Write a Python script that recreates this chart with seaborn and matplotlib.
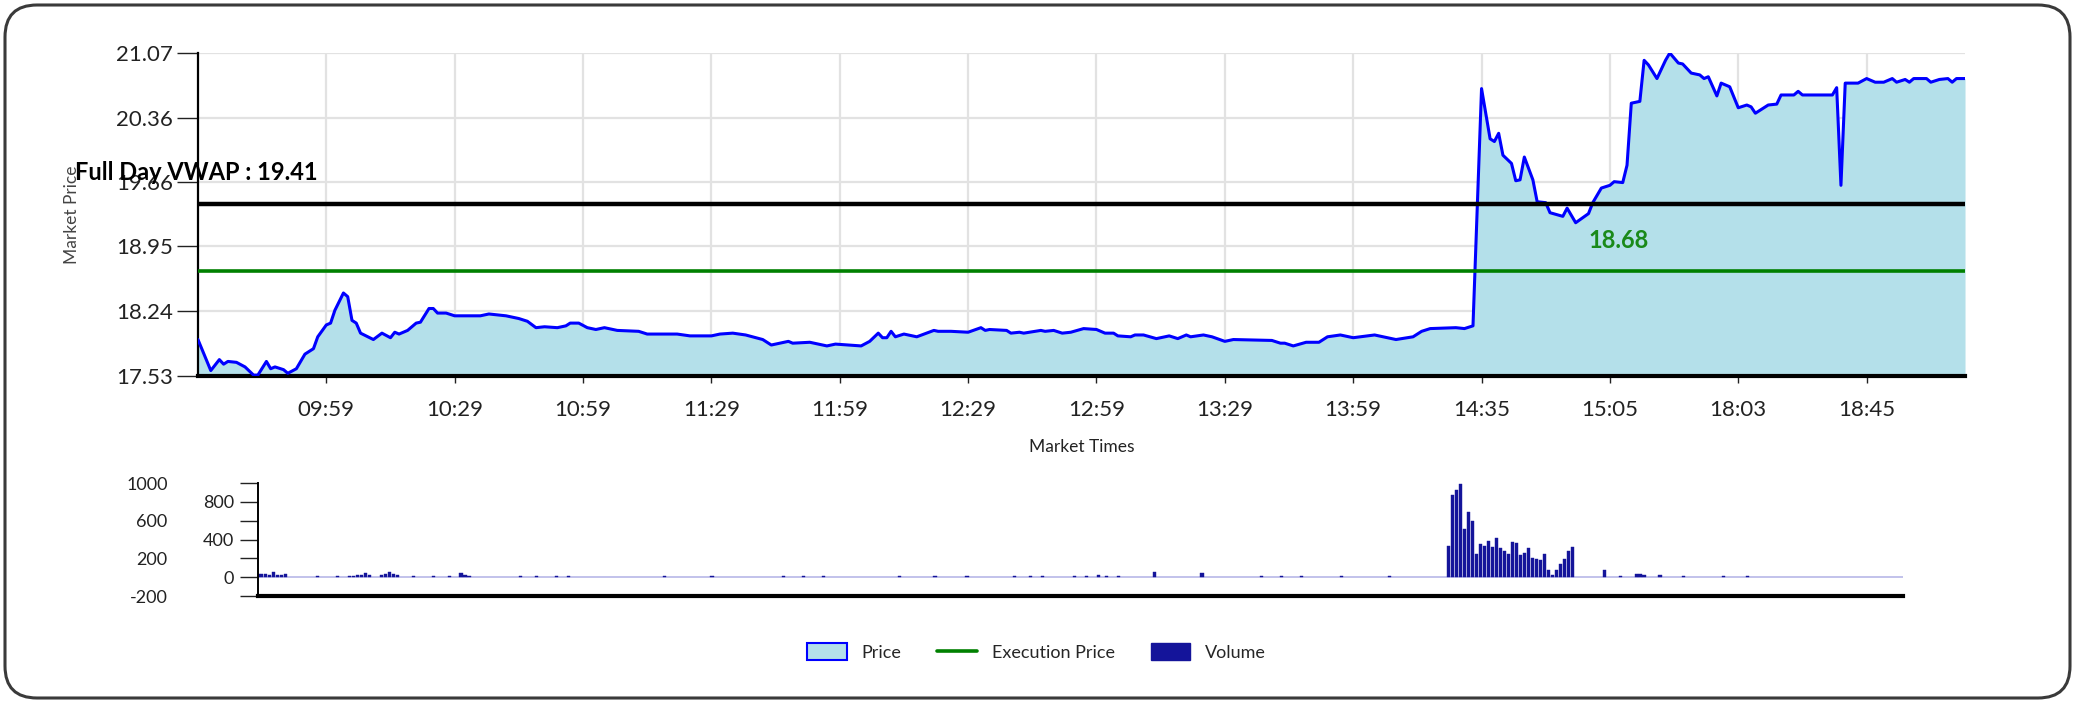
import numpy as np
import pandas as pd
import matplotlib
matplotlib.use("Agg")
import matplotlib.pyplot as plt
import seaborn as sns
from matplotlib.patches import Patch, FancyBboxPatch
from matplotlib.lines import Line2D
from matplotlib.transforms import IdentityTransform

# ---- data ----
# x is the trade index (one step per sampled minute), labels every 30 steps
tick_pos = [30, 60, 90, 120, 150, 180, 210, 240, 270, 300, 330, 360, 390]
tick_labels = ["09:59", "10:29", "10:59", "11:29", "11:59", "12:29", "12:59",
               "13:29", "13:59", "14:35", "15:05", "18:03", "18:45"]

price_idx = [0, 3, 5, 6, 7, 9, 11, 13, 14, 16, 17, 18, 20, 21, 23, 25, 27, 28, 30, 31,
             32, 34, 35, 36, 37, 38, 41, 43, 45, 46, 47, 49, 51, 52, 54, 55, 56, 58, 60, 66,
             68, 72, 75, 77, 79, 81, 84, 86, 87, 89, 91, 93, 95, 98, 103, 105, 112, 115, 120, 122,
             125, 128, 132, 134, 138, 139, 143, 147, 149, 155, 157, 159, 160, 161, 162, 163, 165, 168, 172, 173,
             176, 180, 183, 184, 185, 189, 190, 192, 193, 197, 198, 200, 202, 204, 207, 210, 212, 214, 215, 218,
             219, 221, 224, 227, 229, 231, 232, 235, 237, 240, 242, 251, 253, 254, 256, 259, 262, 264, 267, 270,
             275, 277, 280, 284, 286, 288, 294, 296, 298, 300, 302, 303, 304, 305, 307, 308, 309, 310, 312, 313,
             315, 316, 319, 320, 322, 325, 326, 328, 330, 331, 333, 334, 335, 337, 338, 339, 341, 343, 344, 346,
             347, 349, 351, 352, 353, 355, 356, 358, 360, 362, 363, 364, 367, 369, 370, 373, 374, 375, 382, 383,
             384, 385, 388, 390, 392, 394, 396, 397, 399, 400, 401, 404, 405, 407, 409, 410, 411, 413]
price = [17.93, 17.59, 17.71, 17.66, 17.69, 17.68, 17.63, 17.54, 17.54, 17.69, 17.61, 17.63, 17.60, 17.56, 17.61, 17.77, 17.83, 17.96, 18.09, 18.11,
         18.25, 18.44, 18.40, 18.14, 18.11, 18.00, 17.93, 18.00, 17.95, 18.01, 17.99, 18.03, 18.11, 18.12, 18.27, 18.27, 18.22, 18.22, 18.19, 18.19,
         18.21, 18.19, 18.16, 18.13, 18.06, 18.07, 18.06, 18.08, 18.11, 18.11, 18.06, 18.04, 18.06, 18.03, 18.02, 17.99, 17.99, 17.97, 17.97, 17.99,
         18.00, 17.98, 17.93, 17.87, 17.91, 17.89, 17.90, 17.86, 17.88, 17.86, 17.91, 18.00, 17.95, 17.95, 18.02, 17.96, 17.99, 17.96, 18.03, 18.02,
         18.02, 18.01, 18.06, 18.03, 18.04, 18.03, 18.00, 18.01, 18.00, 18.03, 18.02, 18.03, 18.00, 18.01, 18.05, 18.04, 18.00, 18.00, 17.97, 17.96,
         17.98, 17.98, 17.94, 17.97, 17.94, 17.98, 17.96, 17.98, 17.96, 17.91, 17.93, 17.92, 17.89, 17.89, 17.86, 17.90, 17.90, 17.96, 17.98, 17.95,
         17.98, 17.96, 17.93, 17.96, 18.02, 18.05, 18.06, 18.05, 18.08, 20.68, 20.13, 20.10, 20.19, 19.95, 19.86, 19.67, 19.68, 19.93, 19.68, 19.44,
         19.43, 19.32, 19.28, 19.37, 19.21, 19.31, 19.43, 19.59, 19.62, 19.66, 19.65, 19.84, 20.52, 20.54, 20.99, 20.94, 20.79, 20.99, 21.07, 20.96,
         20.95, 20.85, 20.83, 20.79, 20.81, 20.60, 20.74, 20.70, 20.47, 20.50, 20.48, 20.41, 20.50, 20.51, 20.61, 20.61, 20.65, 20.61, 20.61, 20.69,
         19.62, 20.74, 20.74, 20.79, 20.75, 20.75, 20.79, 20.75, 20.78, 20.75, 20.79, 20.79, 20.75, 20.78, 20.79, 20.75, 20.79, 20.79]

vol_idx = [0, 1, 2, 3, 4, 5, 6, 7, 15, 20, 23, 24, 25, 26, 27, 28, 31, 32, 33, 34,
           35, 39, 44, 48, 51, 52, 53, 66, 70, 75, 78, 102, 114, 132, 137, 142, 161, 170, 178, 190,
           194, 197, 205, 208, 211, 213, 216, 225, 237, 252, 257, 262, 272, 284,
           299, 300, 301, 302, 303, 304, 305, 306, 307, 308, 309, 310, 311, 312, 313, 314,
           315, 316, 317, 318, 319, 320, 321, 322, 323, 324, 325, 326, 327, 328, 329, 330,
           338, 342, 346, 347, 348, 352, 358, 368, 374]
volume = [35, 30, 30, 28, 55, 20, 25, 30, 15, 10, 10, 15, 20, 25, 40, 20, 25, 30, 55, 35,
          20, 15, 10, 15, 40, 20, 15, 12, 15, 12, 15, 15, 12, 15, 12, 10, 12, 15, 12, 12,
          15, 12, 12, 15, 20, 15, 12, 60, 40, 12, 12, 15, 12, 12,
          326, 869, 922, 993, 514, 691, 596, 248, 355, 326, 383, 319, 415, 312, 273, 248,
          372, 362, 238, 259, 312, 206, 195, 184, 241, 78, 28, 78, 135, 195, 273, 319,
          71, 15, 30, 35, 25, 20, 12, 15, 15]

price_ticks = [17.53, 18.24, 18.95, 19.66, 20.36, 21.07]
vwap = 19.41
exec_price = 18.68

df = pd.DataFrame({"idx": price_idx, "price": price})

sns.set_theme(style="white")
plt.rcParams["font.family"] = ["Lato", "DejaVu Sans"]

fig = plt.figure(figsize=(20.75, 7.03), dpi=100)
ax = fig.add_axes([0.0954, 0.4651, 0.8516, 0.4595])
axv = fig.add_axes([0.1243, 0.1522, 0.7928, 0.1607])

# ---- price chart ----
ax.fill_between(df["idx"], df["price"], price_ticks[0], color="#b4e0ea", zorder=2, lw=0)
sns.lineplot(data=df, x="idx", y="price", ax=ax, color="#0000ff", lw=2.2, zorder=3)
ax.axhline(vwap, color="black", lw=3.2, zorder=4)
ax.axhline(exec_price, color="#008000", lw=2.6, zorder=4)

ax.set_xlim(0, 413)
ax.set_ylim(price_ticks[0], price_ticks[-1])
ax.set_yticks(price_ticks)
ax.set_yticklabels([f"{v:.2f}" for v in price_ticks])
ax.set_xticks(tick_pos)
ax.set_xticklabels(tick_labels)
ax.grid(True, color="#e2e2e2", lw=1.6, zorder=0)
ax.set_axisbelow(True)
for s in ["top", "right"]:
    ax.spines[s].set_visible(False)
ax.spines["left"].set_color("black")
ax.spines["left"].set_linewidth(1.6)
ax.spines["bottom"].set_color("black")
ax.spines["bottom"].set_linewidth(3)
ax.tick_params(axis="y", which="major", direction="out", length=15, width=1, pad=3,
               labelsize=16, colors="#222222", left=True)
ax.tick_params(axis="x", which="major", direction="out", length=5, width=1, pad=12,
               labelsize=16, colors="#222222", bottom=True)
ax.set_xlabel("Market Times", fontsize=12.5, labelpad=14, color="#222222")
ax.set_ylabel("Market Price", fontsize=12.5, labelpad=26, color="#444444")

fig.text(75 / 2075, 1 - 173 / 703, f"Full Day VWAP : {vwap:.2f}", fontsize=17,
         fontweight="bold", color="black", va="center", ha="left")
ax.text(332, exec_price + 0.33, f"{exec_price:.2f}", fontsize=17, fontweight="bold",
        color="#1a8a1a", ha="center", va="center", zorder=5)

# ---- volume chart ----
axv.axhline(0, color="#b8b8e8", lw=1.2, zorder=1)
axv.bar(vol_idx, volume, width=0.8, color="#14149a", edgecolor="#14149a", lw=0.3, zorder=2)
axv.set_xlim(0, 413)
axv.set_ylim(-200, 1000)
axv.set_xticks([])
axv.set_yticks([800, 400, 0])
axv.set_yticks([1000, 600, 200, -200], minor=True)
axv.set_yticklabels(["800", "400", "0"])
axv.set_yticklabels(["1000", "600", "200", "-200"], minor=True)
axv.tick_params(axis="y", which="major", length=13, width=1, pad=4, labelsize=13,
                colors="#222222", left=True)
axv.tick_params(axis="y", which="minor", length=13, width=1, pad=52, labelsize=13,
                colors="#222222", left=True)
for s in ["top", "right"]:
    axv.spines[s].set_visible(False)
axv.spines["left"].set_color("black")
axv.spines["left"].set_linewidth(1.4)
axv.spines["bottom"].set_color("black")
axv.spines["bottom"].set_linewidth(3)

# ---- legend ----
handles = [Patch(facecolor="#b4e0ea", edgecolor="#0000ff", lw=1.5, label="Price"),
           Line2D([0], [0], color="#008000", lw=2.6, label="Execution Price"),
           Patch(facecolor="#14149a", edgecolor="#14149a", label="Volume")]
fig.legend(handles=handles, loc="center", bbox_to_anchor=(0.4995, 0.0725), ncol=3,
           frameon=False, fontsize=13, handlelength=2.2, handleheight=1.1,
           columnspacing=2.0, handletextpad=0.8)

# ---- rounded frame ----
frame = FancyBboxPatch((5, 5), 2065, 693, boxstyle="round,pad=0,rounding_size=32",
                       transform=IdentityTransform(), fill=False, edgecolor="#3a3a3a", lw=2.2)
fig.add_artist(frame)

fig.savefig("out.png", dpi=100)
